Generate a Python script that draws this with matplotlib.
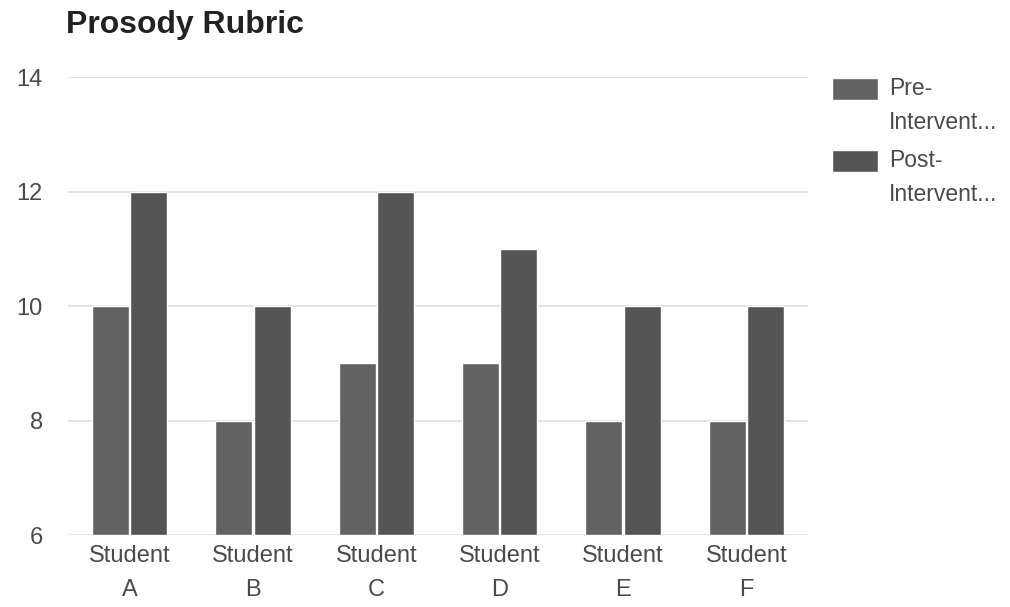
import numpy as np
import matplotlib.pyplot as plt
from matplotlib.patches import Rectangle

# chart data
students = ['Student\nA', 'Student\nB', 'Student\nC', 'Student\nD', 'Student\nE', 'Student\nF']
pre_scores = [10, 8, 9, 9, 8, 8]
post_scores = [12, 10, 12, 11, 10, 10]
series_names = ['Pre-\nIntervent...', 'Post-\nIntervent...']
series_colors = ['#626262', '#555555']
yticks = [6, 8, 10, 12, 14]

plt.rcParams['font.family'] = ['Liberation Sans', 'DejaVu Sans']

fig = plt.figure(figsize=(10.1, 6.07), dpi=100)
ax = fig.add_axes([0.0673, 0.1186, 0.7327, 0.7545])

x = np.arange(len(students))
w = 0.3
ax.bar(x - 0.155, np.array(pre_scores) - 6, w, bottom=6, color=series_colors[0],
       edgecolor='white', linewidth=1, zorder=3)
ax.bar(x + 0.155, np.array(post_scores) - 6, w, bottom=6, color=series_colors[1],
       edgecolor='white', linewidth=1, zorder=3)

ax.set_xlim(-0.5, 5.5)
ax.set_ylim(6, 14)
ax.set_yticks(yticks)
ax.set_xticks(x)
ax.set_xticklabels(students, linespacing=1.7)
ax.yaxis.grid(True, color='#dddddd', linewidth=1.2, zorder=0)
ax.tick_params(axis='both', length=0, labelsize=17, colors='#4a4a4a')
ax.tick_params(axis='y', pad=18)
ax.tick_params(axis='x', pad=7)
for s in ax.spines.values():
    s.set_visible(False)

fig.text(0.065, 0.958, 'Prosody Rubric', fontsize=23, fontweight='bold',
         color='#222222', va='center', ha='left')

# legend drawn by hand (square + two-line label)
leg_tops = [77, 149]
for name, col, top in zip(series_names, series_colors, leg_tops):
    fig.patches.append(Rectangle((832 / 1010, 1 - (top + 23) / 607), 46 / 1010, 22 / 607,
                                 transform=fig.transFigure, facecolor=col,
                                 edgecolor='white', linewidth=1))
    fig.text(889 / 1010, 1 - top / 607, name, fontsize=16.5, color='#4a4a4a',
             va='top', ha='left', linespacing=1.6)

fig.savefig('out.png', dpi=100)
